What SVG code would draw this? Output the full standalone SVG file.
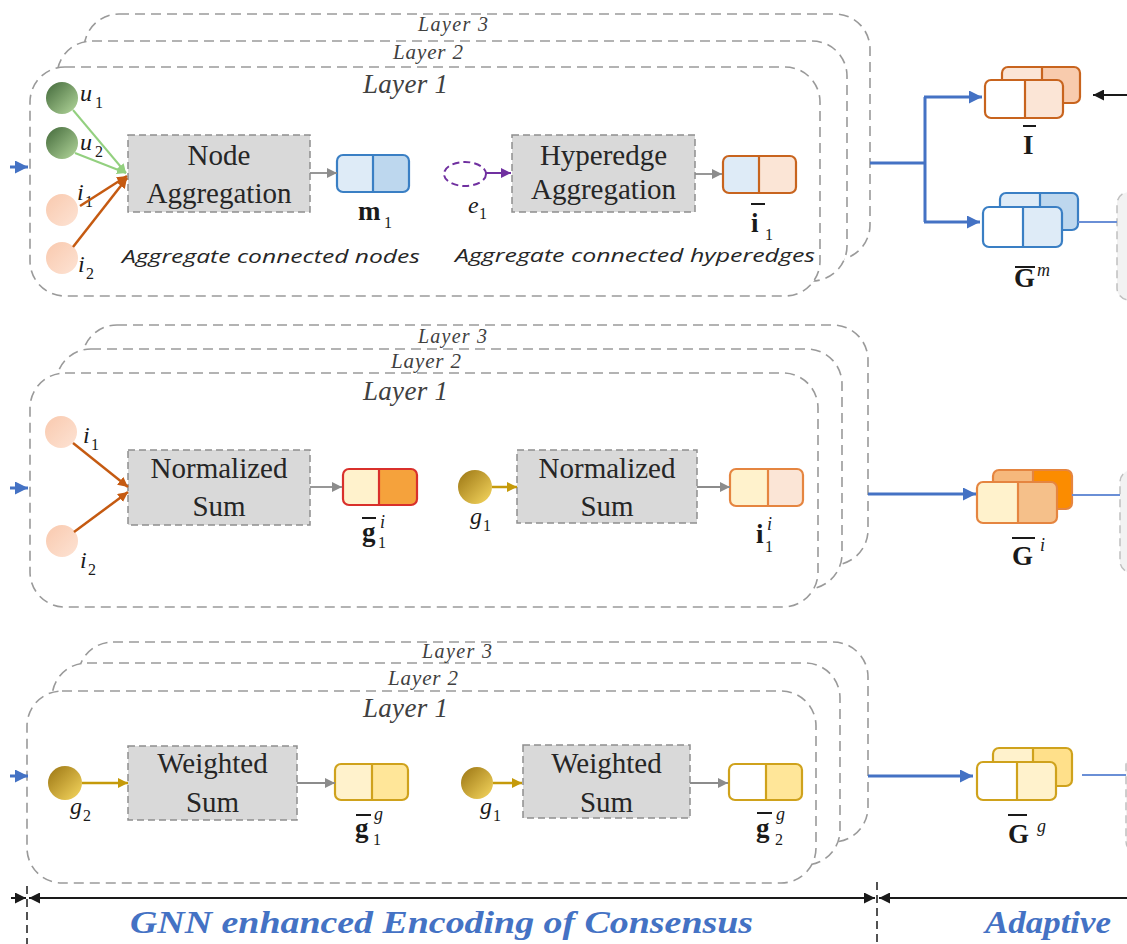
<svg xmlns="http://www.w3.org/2000/svg" width="1127" height="944" viewBox="0 0 1127 944">
<style>
.lay{fill:#fff;stroke:#9a9a9a;stroke-width:1.6;stroke-dasharray:10 6}
.box{fill:#d9d9d9;stroke:#8f8f8f;stroke-width:1.5;stroke-dasharray:7 4}
.bt{font-size:29px;fill:#262626;text-anchor:middle}
.ll{font-style:italic;fill:#404040}
.mi{font-style:italic;font-size:24px;fill:#1a1a1a}
.sub{font-style:normal;font-size:16px;fill:#1a1a1a}
.sup{font-style:italic;font-size:18px;fill:#1a1a1a}
.bv{font-weight:bold;font-size:27px;fill:#1a1a1a}
.ov{stroke:#1a1a1a;stroke-width:2}
.cap{font-family:'Open Sans',sans-serif;font-style:italic;font-size:19px;fill:#262626}
.ttl{font-style:italic;font-weight:bold;font-size:32px;fill:#4472c4}
.blue{stroke:#4472c4;stroke-width:3;fill:none}
.thin{stroke:#6a8fd6;stroke-width:2;fill:none}
.gray{stroke:#8c8c8c;stroke-width:1.8;fill:none}
.grn{stroke:#93d07f;stroke-width:2;fill:none}
.org{stroke:#c55a11;stroke-width:2.5;fill:none}
.gold{stroke:#c59a0a;stroke-width:2.5;fill:none}
.pur{stroke:#7030a0;stroke-width:2;fill:none}
.vb{fill:none;stroke:#3a7fc4;stroke-width:2.2}
.vo{fill:none;stroke:#c8641e;stroke-width:2.2}
.vr{fill:none;stroke:#d9302b;stroke-width:2.2}
.vl{fill:none;stroke:#e58540;stroke-width:2.2}
.vy{fill:none;stroke:#cfa21c;stroke-width:2.2}
.side{fill:#f2f2f2;stroke:#c0c0c0;stroke-width:1.5;stroke-dasharray:8 5}
</style>
<defs>
<marker id="mb" viewBox="0 0 10 10" refX="10" refY="5" markerWidth="13" markerHeight="13" markerUnits="userSpaceOnUse" orient="auto"><path d="M0,0 L10,5 L0,10 z" fill="#4472c4"/></marker>
<marker id="mg" viewBox="0 0 10 10" refX="10" refY="5" markerWidth="10" markerHeight="10" markerUnits="userSpaceOnUse" orient="auto"><path d="M0,0 L10,5 L0,10 z" fill="#8c8c8c"/></marker>
<marker id="mgr" viewBox="0 0 10 10" refX="10" refY="5" markerWidth="9" markerHeight="9" markerUnits="userSpaceOnUse" orient="auto"><path d="M0,0 L10,5 L0,10 z" fill="#93d07f"/></marker>
<marker id="mo" viewBox="0 0 10 10" refX="10" refY="5" markerWidth="10" markerHeight="10" markerUnits="userSpaceOnUse" orient="auto"><path d="M0,0 L10,5 L0,10 z" fill="#c55a11"/></marker>
<marker id="my" viewBox="0 0 10 10" refX="10" refY="5" markerWidth="10" markerHeight="10" markerUnits="userSpaceOnUse" orient="auto"><path d="M0,0 L10,5 L0,10 z" fill="#c59a0a"/></marker>
<marker id="mp" viewBox="0 0 10 10" refX="10" refY="5" markerWidth="10" markerHeight="10" markerUnits="userSpaceOnUse" orient="auto"><path d="M0,0 L10,5 L0,10 z" fill="#7030a0"/></marker>
<marker id="mk" viewBox="0 0 10 10" refX="10" refY="5" markerWidth="11" markerHeight="11" markerUnits="userSpaceOnUse" orient="auto-start-reverse"><path d="M0,0 L10,5 L0,10 z" fill="#1a1a1a"/></marker>
<linearGradient id="gG" x1="0" y1="0" x2="1" y2="1"><stop offset="0" stop-color="#42683a"/><stop offset="1" stop-color="#b4d89c"/></linearGradient>
<linearGradient id="gP" x1="0" y1="0" x2="1" y2="1"><stop offset="0" stop-color="#f9c9ae"/><stop offset="1" stop-color="#fde3d4"/></linearGradient>
<linearGradient id="gY" x1="0" y1="0" x2="1" y2="1"><stop offset="0" stop-color="#9a7412"/><stop offset="1" stop-color="#f7d860"/></linearGradient>
</defs>

<g font-family="Liberation Serif, Times New Roman, serif">
<!-- Row 1 -->
<g id="row1-layers">
<rect class="lay" x="84" y="14" width="786" height="246" rx="35"/>
<rect class="lay" x="57" y="41" width="790" height="240" rx="35"/>
<rect class="lay" x="30" y="67" width="790" height="229" rx="35"/>
<text class="ll" x="418" y="31" font-size="20" textLength="70">Layer 3</text>
<text class="ll" x="393" y="59" font-size="21" textLength="70">Layer 2</text>
<text class="ll" x="363" y="93" font-size="27" textLength="85">Layer 1</text>
</g>
<g id="row1-u1"><circle cx="62" cy="98" r="16" fill="url(#gG)"/><text class="mi" x="80" y="101">u</text><text class="sub" x="95" y="108">1</text></g>
<g id="row1-u2"><circle cx="62" cy="143" r="16" fill="url(#gG)"/><text class="mi" x="80" y="150">u</text><text class="sub" x="95" y="157">2</text></g>
<g id="row1-i1"><circle cx="62" cy="210" r="16" fill="url(#gP)"/><text class="mi" x="77" y="200">i</text><text class="sub" x="85" y="207">1</text></g>
<g id="row1-i2"><circle cx="62" cy="258" r="16" fill="url(#gP)"/><text class="mi" x="78" y="272">i</text><text class="sub" x="86" y="279">2</text></g>
<g id="row1-nodeagg"><rect class="box" x="128" y="135" width="182" height="77"/><text class="bt" x="219" y="165">Node</text><text class="bt" x="219" y="203">Aggregation</text></g>
<g id="row1-m1">
<path d="M373,155 H343 A6,6 0 0 0 337,161 V186 A6,6 0 0 0 343,192 H373 Z" fill="#deebf7"/>
<path d="M373,155 H403 A6,6 0 0 1 409,161 V186 A6,6 0 0 1 403,192 H373 Z" fill="#bdd7ee"/>
<rect class="vb" x="337" y="155" width="72" height="37" rx="6"/><path class="vb" d="M373,155 V192"/>
<text class="bv" x="358" y="220">m</text><text class="sub" x="384" y="228">1</text>
</g>
<g id="row1-e1"><ellipse cx="465" cy="174" rx="21" ry="12" fill="none" stroke="#7030a0" stroke-width="2" stroke-dasharray="7 4"/><text class="mi" x="468" y="213">e</text><text class="sub" x="479" y="219">1</text></g>
<g id="row1-hyperagg"><rect class="box" x="512" y="135" width="183" height="77"/><text class="bt" x="603.5" y="165">Hyperedge</text><text class="bt" x="603.5" y="199">Aggregation</text></g>
<g id="row1-ibar1">
<path d="M759,156 H729 A6,6 0 0 0 723,162 V187 A6,6 0 0 0 729,193 H759 Z" fill="#deebf7"/>
<path d="M759,156 H790 A6,6 0 0 1 796,162 V187 A6,6 0 0 1 790,193 H759 Z" fill="#fbe5d6"/>
<rect class="vo" x="723" y="156" width="73" height="37" rx="6"/><path class="vo" d="M759,156 V193"/>
<line class="ov" x1="751" y1="204" x2="765" y2="204"/>
<text class="bv" x="751" y="232">i</text><text class="sub" x="765" y="240">1</text>
</g>
<text class="cap" x="122" y="263" textLength="298" lengthAdjust="spacingAndGlyphs">Aggregate connected nodes</text>
<text class="cap" x="455" y="262" textLength="360" lengthAdjust="spacingAndGlyphs">Aggregate connected hyperedges</text>

<g id="row1-Ibar">
<path d="M1042,67 H1008 A6,6 0 0 0 1002,73 V97 A6,6 0 0 0 1008,103 H1042 Z" fill="#fbe5d6"/>
<path d="M1042,67 H1074 A6,6 0 0 1 1080,73 V97 A6,6 0 0 1 1074,103 H1042 Z" fill="#f8cbad"/>
<rect class="vo" x="1002" y="67" width="78" height="36" rx="6"/><path class="vo" d="M1042,67 V103"/>
<path d="M1025,80 H991 A6,6 0 0 0 985,86 V112 A6,6 0 0 0 991,118 H1025 Z" fill="#ffffff"/>
<path d="M1025,80 H1057 A6,6 0 0 1 1063,86 V112 A6,6 0 0 1 1057,118 H1025 Z" fill="#fbe5d6"/>
<rect class="vo" x="985" y="80" width="78" height="38" rx="6"/><path class="vo" d="M1025,80 V118"/>
<line class="ov" x1="1023" y1="126" x2="1036" y2="126"/>
<text class="bv" x="1023" y="154">I</text>
</g>
<g id="row1-Gm">
<path d="M1040,193 H1006 A6,6 0 0 0 1000,199 V224 A6,6 0 0 0 1006,230 H1040 Z" fill="#deebf7"/>
<path d="M1040,193 H1072 A6,6 0 0 1 1078,199 V224 A6,6 0 0 1 1072,230 H1040 Z" fill="#bdd7ee"/>
<rect class="vb" x="1000" y="193" width="78" height="37" rx="6"/><path class="vb" d="M1040,193 V230"/>
<path d="M1023,207 H989 A6,6 0 0 0 983,213 V241 A6,6 0 0 0 989,247 H1023 Z" fill="#ffffff"/>
<path d="M1023,207 H1056 A6,6 0 0 1 1062,213 V241 A6,6 0 0 1 1056,247 H1023 Z" fill="#deebf7"/>
<rect class="vb" x="983" y="207" width="79" height="40" rx="6"/><path class="vb" d="M1023,207 V247"/>
<line class="ov" x1="1015" y1="267" x2="1035" y2="267"/>
<text class="bv" x="1014" y="287">G</text><text class="sup" x="1037" y="276" font-size="24">m</text>
</g>
<g id="row1-side"><rect class="side" x="1117" y="192" width="40" height="108" rx="12"/></g>

<!-- Row 2 -->
<g id="row2-layers">
<rect class="lay" x="82" y="325" width="786" height="240" rx="35"/>
<rect class="lay" x="56" y="349" width="786" height="240" rx="35"/>
<rect class="lay" x="30" y="373" width="788" height="234" rx="35"/>
<text class="ll" x="418" y="343" font-size="20" textLength="69">Layer 3</text>
<text class="ll" x="391" y="368" font-size="21" textLength="70">Layer 2</text>
<text class="ll" x="363" y="400" font-size="27" textLength="85">Layer 1</text>
</g>
<g id="row2-i1"><circle cx="61" cy="432" r="16" fill="url(#gP)"/><text class="mi" x="83" y="443">i</text><text class="sub" x="91" y="450">1</text></g>
<g id="row2-i2"><circle cx="62" cy="541" r="16" fill="url(#gP)"/><text class="mi" x="80" y="568">i</text><text class="sub" x="88" y="575">2</text></g>
<g id="row2-normsum1"><rect class="box" x="128" y="450" width="182" height="75"/><text class="bt" x="219" y="478">Normalized</text><text class="bt" x="219" y="516">Sum</text></g>
<g id="row2-gbar1i">
<path d="M379,469 H349 A6,6 0 0 0 343,475 V499 A6,6 0 0 0 349,505 H379 Z" fill="#fff2cc"/>
<path d="M379,469 H411 A6,6 0 0 1 417,475 V499 A6,6 0 0 1 411,505 H379 Z" fill="#f5a23c"/>
<rect class="vr" x="343" y="469" width="74" height="36" rx="6"/><path class="vr" d="M379,469 V505"/>
<line class="ov" x1="362" y1="518" x2="376" y2="518"/>
<text class="bv" x="362" y="541">g</text><text class="sup" x="380" y="528" font-size="16">i</text><text class="sub" x="378" y="548">1</text>
</g>
<g id="row2-g1"><circle cx="475" cy="487" r="17" fill="url(#gY)"/><text class="mi" x="470" y="524">g</text><text class="sub" x="483" y="531">1</text></g>
<g id="row2-normsum2"><rect class="box" x="517" y="450" width="180" height="73"/><text class="bt" x="607" y="478">Normalized</text><text class="bt" x="607" y="516">Sum</text></g>
<g id="row2-i1i">
<path d="M768,469 H736 A6,6 0 0 0 730,475 V500 A6,6 0 0 0 736,506 H768 Z" fill="#fff2cc"/>
<path d="M768,469 H797 A6,6 0 0 1 803,475 V500 A6,6 0 0 1 797,506 H768 Z" fill="#fbe5d6"/>
<rect class="vl" x="730" y="469" width="73" height="37" rx="6"/><path class="vl" d="M768,469 V506"/>
<text class="bv" x="756" y="543">i</text><text class="sup" x="767" y="530" font-size="16">i</text><text class="sub" x="765" y="552">1</text>
</g>
<g id="row2-Gi">
<path d="M1033,470 H999 A6,6 0 0 0 993,476 V503 A6,6 0 0 0 999,509 H1033 Z" fill="#f6b87c"/>
<path d="M1033,470 H1066 A6,6 0 0 1 1072,476 V503 A6,6 0 0 1 1066,509 H1033 Z" fill="#fb8c00"/>
<rect class="vl" x="993" y="470" width="79" height="39" rx="6" stroke="#f28a2e"/><path class="vl" d="M1033,470 V509"/>
<path d="M1018,482 H983 A6,6 0 0 0 977,488 V517 A6,6 0 0 0 983,523 H1018 Z" fill="#fff2cc"/>
<path d="M1018,482 H1051 A6,6 0 0 1 1057,488 V517 A6,6 0 0 1 1051,523 H1018 Z" fill="#f5c08a"/>
<rect class="vl" x="977" y="482" width="80" height="41" rx="6"/><path class="vl" d="M1018,482 V523"/>
<line class="ov" x1="1012" y1="538" x2="1035" y2="538"/>
<text class="bv" x="1012" y="565">G</text><text class="sup" x="1040" y="551" font-size="22">i</text>
</g>
<g id="row2-side"><rect class="side" x="1120" y="470" width="40" height="103" rx="12"/></g>

<!-- Row 3 -->
<g id="row3-layers">
<rect class="lay" x="78" y="642" width="790" height="200" rx="35"/>
<rect class="lay" x="52" y="663" width="788" height="202" rx="35"/>
<rect class="lay" x="27" y="691" width="789" height="192" rx="35"/>
<text class="ll" x="422" y="658" font-size="20" textLength="70">Layer 3</text>
<text class="ll" x="388" y="685" font-size="21" textLength="70">Layer 2</text>
<text class="ll" x="363" y="717" font-size="27" textLength="85">Layer 1</text>
</g>
<g id="row3-g2"><circle cx="65" cy="783" r="17" fill="url(#gY)"/><text class="mi" x="70" y="814">g</text><text class="sub" x="83" y="821">2</text></g>
<g id="row3-wsum1"><rect class="box" x="128" y="746" width="169" height="74"/><text class="bt" x="212.5" y="773">Weighted</text><text class="bt" x="212.5" y="812">Sum</text></g>
<g id="row3-gbar1g">
<path d="M372,764 H341 A6,6 0 0 0 335,770 V794 A6,6 0 0 0 341,800 H372 Z" fill="#fff2cc"/>
<path d="M372,764 H402 A6,6 0 0 1 408,770 V794 A6,6 0 0 1 402,800 H372 Z" fill="#ffe699"/>
<rect class="vy" x="335" y="764" width="73" height="36" rx="6"/><path class="vy" d="M372,764 V800"/>
<line class="ov" x1="356" y1="815" x2="371" y2="815"/>
<text class="bv" x="355" y="837">g</text><text class="sup" x="374" y="820" font-size="20">g</text><text class="sub" x="373" y="845">1</text>
</g>
<g id="row3-g1"><circle cx="477" cy="783" r="16" fill="url(#gY)"/><text class="mi" x="480" y="814">g</text><text class="sub" x="493" y="821">1</text></g>
<g id="row3-wsum2"><rect class="box" x="523" y="745" width="167" height="73"/><text class="bt" x="606.5" y="773">Weighted</text><text class="bt" x="606.5" y="812">Sum</text></g>
<g id="row3-gbar2g">
<path d="M766,764 H735 A6,6 0 0 0 729,770 V794 A6,6 0 0 0 735,800 H766 Z" fill="#ffffff"/>
<path d="M766,764 H796 A6,6 0 0 1 802,770 V794 A6,6 0 0 1 796,800 H766 Z" fill="#ffe699"/>
<rect class="vy" x="729" y="764" width="73" height="36" rx="6"/><path class="vy" d="M766,764 V800"/>
<line class="ov" x1="757" y1="813" x2="772" y2="813"/>
<text class="bv" x="756" y="837">g</text><text class="sup" x="776" y="820" font-size="20">g</text><text class="sub" x="775" y="845">2</text>
</g>
<g id="row3-Gg">
<path d="M1033,748 H999 A6,6 0 0 0 993,754 V780 A6,6 0 0 0 999,786 H1033 Z" fill="#fff2cc"/>
<path d="M1033,748 H1066 A6,6 0 0 1 1072,754 V780 A6,6 0 0 1 1066,786 H1033 Z" fill="#ffe08a"/>
<rect class="vy" x="993" y="748" width="79" height="38" rx="6"/><path class="vy" d="M1033,748 V786"/>
<path d="M1017,762 H983 A6,6 0 0 0 977,768 V794 A6,6 0 0 0 983,800 H1017 Z" fill="#ffffff"/>
<path d="M1017,762 H1050 A6,6 0 0 1 1056,768 V794 A6,6 0 0 1 1050,800 H1017 Z" fill="#fff2cc"/>
<rect class="vy" x="977" y="762" width="79" height="38" rx="6"/><path class="vy" d="M1017,762 V800"/>
<line class="ov" x1="1008" y1="815" x2="1027" y2="815"/>
<text class="bv" x="1008" y="843">G</text><text class="sup" x="1037" y="832" font-size="24">g</text>
</g>
<g id="row3-side"><rect class="side" x="1126" y="753" width="40" height="100" rx="12"/></g>

<!-- Connectors -->
<g id="connectors">
<line class="blue" x1="10" y1="167" x2="28" y2="167" marker-end="url(#mb)"/>
<line class="blue" x1="10" y1="488" x2="28" y2="488" marker-end="url(#mb)"/>
<line class="blue" x1="10" y1="776" x2="28" y2="776" marker-end="url(#mb)"/>
<line class="grn" x1="73" y1="110" x2="126" y2="173" marker-end="url(#mgr)"/>
<line class="grn" x1="75" y1="153" x2="126" y2="173" marker-end="url(#mgr)"/>
<line class="org" x1="80" y1="206" x2="127" y2="176" marker-end="url(#mo)"/>
<line class="org" x1="73" y1="247" x2="127" y2="178" marker-end="url(#mo)"/>
<line class="gray" x1="310" y1="173" x2="337" y2="173" marker-end="url(#mg)"/>
<line class="pur" x1="486" y1="173" x2="511" y2="173" marker-end="url(#mp)"/>
<line class="gray" x1="695" y1="174" x2="722" y2="174" marker-end="url(#mg)"/>
<path class="blue" d="M870,163 H925 M925,97 V222"/>
<line class="blue" x1="924" y1="97" x2="982" y2="97" marker-end="url(#mb)"/>
<line class="blue" x1="924" y1="222" x2="980" y2="222" marker-end="url(#mb)"/>
<line stroke="#1a1a1a" stroke-width="2" x1="1127" y1="95" x2="1093" y2="95" marker-end="url(#mk)"/>
<line class="thin" x1="1078" y1="222" x2="1117" y2="222"/>
<line class="org" x1="73" y1="443" x2="128" y2="487" marker-end="url(#mo)"/>
<line class="org" x1="74" y1="532" x2="128" y2="492" marker-end="url(#mo)"/>
<line class="gray" x1="310" y1="487" x2="342" y2="487" marker-end="url(#mg)"/>
<line class="gold" x1="492" y1="487" x2="517" y2="487" marker-end="url(#my)"/>
<line class="gray" x1="697" y1="487" x2="730" y2="487" marker-end="url(#mg)"/>
<line class="blue" x1="868" y1="494" x2="976" y2="494" marker-end="url(#mb)"/>
<line class="thin" x1="1072" y1="495" x2="1120" y2="495"/>
<line class="gold" x1="82" y1="783" x2="128" y2="783" marker-end="url(#my)"/>
<line class="gray" x1="297" y1="783" x2="335" y2="783" marker-end="url(#mg)"/>
<line class="gold" x1="493" y1="783" x2="522" y2="783" marker-end="url(#my)"/>
<line class="gray" x1="690" y1="783" x2="728" y2="783" marker-end="url(#mg)"/>
<line class="blue" x1="868" y1="776" x2="973" y2="776" marker-end="url(#mb)"/>
<line class="thin" x1="1082" y1="775" x2="1126" y2="775"/>
</g>

<!-- Bottom dimension -->
<g id="dimension">
<line stroke="#1a1a1a" stroke-width="1.5" stroke-dasharray="8 5" x1="27" y1="886" x2="27" y2="944"/>
<line stroke="#1a1a1a" stroke-width="1.5" stroke-dasharray="8 5" x1="877" y1="882" x2="877" y2="944"/>
<line stroke="#1a1a1a" stroke-width="2" x1="11" y1="898" x2="26" y2="898" marker-end="url(#mk)"/>
<line stroke="#1a1a1a" stroke-width="2" x1="29" y1="898" x2="875" y2="898" marker-start="url(#mk)" marker-end="url(#mk)"/>
<line stroke="#1a1a1a" stroke-width="2" x1="1127" y1="898" x2="879" y2="898" marker-end="url(#mk)"/>
<text class="ttl" x="130" y="933" textLength="623" lengthAdjust="spacingAndGlyphs">GNN enhanced Encoding of Consensus</text>
<text class="ttl" x="985" y="933" textLength="126" lengthAdjust="spacingAndGlyphs">Adaptive</text>
</g>
</g>
</svg>
